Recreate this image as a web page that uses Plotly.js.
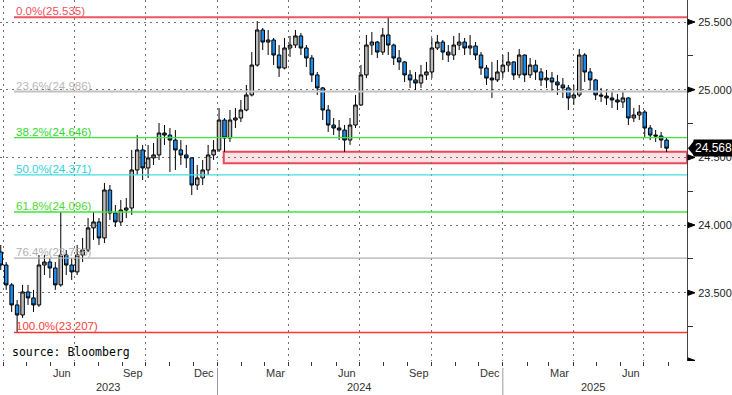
<!DOCTYPE html>
<html><head><meta charset="utf-8">
<script src="https://cdn.plot.ly/plotly-3.0.1.min.js"></script>
<style>html,body{margin:0;padding:0;background:#fff;} #chart{width:732px;height:395px;}</style>
</head><body><div id="chart"></div>
<script>
// weekly candles, first week centred on this date
const startDate = '2023-03-29';

const openVals = [
 23.801,23.705,23.558,23.410,23.336,23.506,23.462,23.410,23.705,23.727,
 23.683,23.558,23.779,23.705,23.654,23.779,23.816,23.979,24.023,23.905,
 24.259,24.089,24.023,24.111,24.126,24.407,24.555,24.422,24.496,24.518,
 24.680,24.665,24.628,24.555,24.518,24.496,24.296,24.348,24.407,24.518,
 24.555,24.776,24.643,24.776,24.791,24.850,24.961,25.182,25.441,25.352,
 25.367,25.256,25.160,25.308,25.330,25.397,25.308,25.234,25.109,25.013,
 24.850,24.739,24.717,24.702,24.628,24.739,24.887,25.109,25.330,25.352,
 25.278,25.404,25.330,25.234,25.205,25.109,25.072,25.049,25.109,25.131,
 25.308,25.352,25.278,25.256,25.330,25.352,25.308,25.323,25.256,25.160,
 25.086,25.072,25.131,25.182,25.205,25.109,25.256,25.109,25.182,25.131,
 25.072,25.086,25.057,25.035,25.013,24.939,24.961,25.256,25.131,25.072,
 24.961,24.953,24.939,24.924,24.909,24.939,24.791,24.813,24.835,24.717,
 24.665,24.658,24.628];
const highVals = [
 23.853,23.727,23.572,23.447,23.558,23.558,23.521,23.779,23.779,23.757,
 23.727,24.097,23.816,23.757,23.853,23.905,24.052,24.097,24.052,24.311,
 24.296,24.148,24.185,24.200,24.555,24.665,24.592,24.592,24.606,24.754,
 24.739,24.717,24.702,24.628,24.592,24.500,24.444,24.481,24.592,24.628,
 24.865,24.790,24.850,24.865,24.924,25.035,25.278,25.507,25.456,25.441,
 25.382,25.330,25.382,25.397,25.441,25.419,25.330,25.256,25.131,25.020,
 24.887,24.791,24.776,24.739,24.791,24.961,25.182,25.404,25.426,25.360,
 25.456,25.535,25.340,25.293,25.210,25.145,25.131,25.182,25.205,25.382,
 25.404,25.367,25.330,25.397,25.419,25.382,25.404,25.352,25.278,25.182,
 25.205,25.219,25.256,25.278,25.210,25.301,25.260,25.234,25.219,25.160,
 25.145,25.131,25.109,25.086,25.035,25.035,25.301,25.270,25.160,25.080,
 25.013,24.998,24.983,24.968,24.983,24.945,24.865,24.887,24.850,24.739,
 24.702,24.688,24.643];
const lowVals = [
 23.668,23.521,23.358,23.207,23.314,23.410,23.358,23.395,23.631,23.609,
 23.521,23.545,23.631,23.594,23.631,23.727,23.800,23.891,23.853,23.868,
 24.038,23.986,24.000,24.052,24.075,24.370,24.333,24.348,24.444,24.481,
 24.592,24.392,24.407,24.444,24.422,24.222,24.259,24.296,24.370,24.481,
 24.540,24.540,24.614,24.717,24.761,24.840,24.950,25.170,25.293,25.256,
 25.182,25.094,25.150,25.242,25.308,25.256,25.168,25.057,24.961,24.776,
 24.688,24.665,24.628,24.540,24.592,24.717,24.880,25.086,25.256,25.234,
 25.256,25.256,25.182,25.145,25.057,25.013,24.998,25.013,25.072,25.086,
 25.293,25.219,25.205,25.219,25.293,25.256,25.256,25.219,25.109,25.035,
 24.939,25.057,25.086,25.131,25.072,25.086,25.057,25.086,25.072,25.027,
 25.013,24.983,24.961,24.939,24.850,24.887,24.946,25.057,24.998,24.924,
 24.909,24.887,24.865,24.850,24.865,24.739,24.761,24.776,24.651,24.628,
 24.614,24.569,24.540];
const closeVals = [
 23.705,23.558,23.410,23.336,23.506,23.462,23.410,23.705,23.727,23.683,
 23.558,23.779,23.705,23.654,23.779,23.816,23.979,24.023,23.905,24.259,
 24.089,24.023,24.111,24.126,24.407,24.555,24.422,24.496,24.518,24.680,
 24.665,24.628,24.555,24.518,24.496,24.296,24.348,24.407,24.518,24.555,
 24.776,24.643,24.776,24.791,24.850,24.961,25.182,25.441,25.352,25.367,
 25.256,25.160,25.308,25.330,25.397,25.308,25.234,25.109,25.013,24.850,
 24.739,24.717,24.702,24.628,24.739,24.887,25.109,25.330,25.352,25.278,
 25.404,25.330,25.234,25.205,25.109,25.072,25.049,25.109,25.131,25.308,
 25.352,25.278,25.256,25.330,25.352,25.308,25.323,25.256,25.160,25.086,
 25.072,25.131,25.182,25.205,25.109,25.256,25.109,25.182,25.131,25.072,
 25.086,25.057,25.035,25.013,24.939,24.961,25.256,25.131,25.072,24.961,
 24.953,24.939,24.924,24.909,24.939,24.791,24.813,24.835,24.717,24.665,
 24.658,24.628,24.568];

const fibLevels = [25.535, 24.986, 24.646, 24.371, 24.096, 23.756, 23.207];
const fibLabels = ['0.0%(25.535)','23.6%(24.986)','38.2%(24.646)','50.0%(24.371)','61.8%(24.096)','76.4%(23.756)','100.0%(23.207)'];
const fibLineColors = ['#ec5560','#c2c2c2','#3ae83a','#44dde0','#3ae83a','#b0b0b0','#ff3535'];
const fibTextColors = ['#f0505a','#b8b8b8','#30d830','#30d0e0','#4cd830','#b0b0b0','#ff4040'];
const fibLineWidths = [2, 2, 1.3, 1.3, 1.5, 1.3, 1.5];
const fibStart = '2023-04-15';

const zoneStart = '2024-01-09';
const zoneLow = 24.456, zoneHigh = 24.542;
const lastPrice = 24.568;

const yTickVals = [23, 23.5, 24, 24.5, 25, 25.5];
const yTickText = ['', '23.500', '24.000', '24.500', '25.000', '25.500'];
const yMinorVals = [23.25, 23.75, 24.25, 24.75, 25.25];
const yRange = [22.996, 25.6625];
const xRange = ['2023-03-28 01:00', '2025-08-25 05:00'];

const quarterDates = ['2023-04-01','2023-07-01','2023-10-01','2024-01-01','2024-04-01','2024-07-01','2024-10-01','2025-01-01','2025-04-01','2025-07-01'];
const monthLabelDates = ['2023-06-15','2023-09-15','2023-12-15','2024-03-15','2024-06-15','2024-09-15','2024-12-15','2025-03-15','2025-06-15'];
const monthLabelText = ['Jun','Sep','Dec','Mar','Jun','Sep','Dec','Mar','Jun'];
const yearLabelDates = ['2023-08-14','2024-07-01','2025-04-26'];
const yearLabelText = ['2023','2024','2025'];
const yearSepDates = ['2024-01-01','2025-01-01'];

const dates = [];
const t0 = new Date(startDate + 'T00:00:00Z').getTime();
for (let i = 0; i < closeVals.length; i++) {
  dates.push(new Date(t0 + i * 7 * 86400000).toISOString().slice(0, 10));
}

const PW = 687, PH = 361, YPX = (yRange[1] - yRange[0]) / PH;

const trace = {
  type: 'candlestick', x: dates, open: openVals, high: highVals, low: lowVals, close: closeVals,
  increasing: {line: {color: '#000000', width: 1}, fillcolor: '#bdbdbd'},
  decreasing: {line: {color: '#000000', width: 1}, fillcolor: '#1f8ceb'},
  whiskerwidth: 0, hoverinfo: 'skip', showlegend: false
};

const shapes = [];
shapes.push({type: 'rect', xref: 'x', yref: 'y', x0: zoneStart, x1: xRange[1], y0: zoneLow, y1: zoneHigh,
  fillcolor: '#fde3e6', line: {color: '#e84a5a', width: 2}, layer: 'below'});
fibLevels.forEach((lv, i) => {
  shapes.push({type: 'line', xref: 'x', yref: 'y', x0: fibStart, x1: xRange[1], y0: lv, y1: lv,
    line: {color: fibLineColors[i], width: fibLineWidths[i]}, layer: 'above'});
});
yTickVals.forEach(v => {
  const a = 1 + 1 / PW, b = 1 + 8 / PW, h = 2.5 * YPX;
  shapes.push({type: 'path', xref: 'paper', yref: 'y',
    path: `M ${a} ${v + h} L ${b} ${v} L ${a} ${v - h} Z`, fillcolor: '#000', line: {color: '#000', width: 1}});
});
{
  const a = 1 + 1 / PW, b = 1 + 7 / PW, h = 7.5 * YPX;
  shapes.push({type: 'path', xref: 'paper', yref: 'y',
    path: `M ${a} ${lastPrice} L ${b} ${lastPrice + h} L ${b} ${lastPrice - h} Z`, fillcolor: '#000', line: {color: '#000', width: 0}});
}
yearSepDates.forEach(d => {
  shapes.push({type: 'line', xref: 'x', yref: 'paper', x0: d, x1: d, y0: -7 / PH, y1: -34 / PH,
    line: {color: '#9a9a9a', width: 1}});
});

const annotations = [];
fibLevels.forEach((lv, i) => {
  annotations.push({xref: 'x', yref: 'y', x: fibStart, y: lv, xanchor: 'left', yanchor: 'bottom',
    xshift: 1, yshift: -1, text: fibLabels[i], showarrow: false, borderpad: 0,
    font: {family: 'Liberation Sans, Arial, sans-serif', size: 11.5, color: fibTextColors[i]}});
});
monthLabelDates.forEach((d, i) => {
  annotations.push({xref: 'x', yref: 'paper', x: d, y: -12 / PH, yanchor: 'middle', xanchor: 'center',
    text: monthLabelText[i], showarrow: false,
    font: {family: 'Liberation Sans, Arial, sans-serif', size: 11, color: '#333'}});
});
yearLabelDates.forEach((d, i) => {
  annotations.push({xref: 'x', yref: 'paper', x: d, y: -25.5 / PH, yanchor: 'middle', xanchor: 'center',
    text: yearLabelText[i], showarrow: false,
    font: {family: 'Liberation Sans, Arial, sans-serif', size: 11, color: '#333'}});
});
annotations.push({xref: 'paper', yref: 'paper', x: 10 / PW, y: 9 / PH, xanchor: 'left', yanchor: 'middle',
  text: 'source: Bloomberg', showarrow: false,
  font: {family: 'DejaVu Sans Mono, monospace', size: 11.5, color: '#000'}});
annotations.push({xref: 'paper', yref: 'y', x: 1, xshift: 6, y: lastPrice, xanchor: 'left', yanchor: 'middle',
  text: lastPrice.toFixed(3), showarrow: false, bgcolor: '#000', borderpad: 1,
  font: {family: 'Liberation Sans, Arial, sans-serif', size: 12, color: '#fff'}});

const layout = {
  width: 732, height: 395,
  margin: {l: 0, r: 45, t: 0, b: 34, pad: 0},
  paper_bgcolor: '#ffffff', plot_bgcolor: '#ffffff',
  showlegend: false,
  boxgap: 0.08,
  xaxis: {
    type: 'date', range: xRange, rangeslider: {visible: false}, fixedrange: true,
    tickmode: 'array', tickvals: quarterDates, showticklabels: false,
    ticks: 'outside', ticklen: 4, tickcolor: '#333', tickwidth: 1,
    showgrid: true, gridcolor: '#707070', gridwidth: 1, griddash: '2px,4px',
    minor: {dtick: 'M1', tick0: '2023-01-01', ticks: 'outside', ticklen: 4, tickcolor: '#333', tickwidth: 1, showgrid: false},
    showline: false, zeroline: false
  },
  yaxis: {
    side: 'right', range: yRange, fixedrange: true,
    tickmode: 'array', tickvals: yTickVals, ticktext: yTickText, ticks: '',
    showgrid: true, gridcolor: '#707070', gridwidth: 1, griddash: '2px,4px',
    minor: {tickvals: yMinorVals, ticks: 'outside', ticklen: 5, tickcolor: '#333', tickwidth: 1, showgrid: false},
    showline: true, linecolor: '#444', linewidth: 1, zeroline: false,
    tickfont: {family: 'Liberation Sans, Arial, sans-serif', size: 11, color: '#222'},
    ticklabelstandoff: 8
  },
  shapes: shapes,
  annotations: annotations
};

Plotly.newPlot('chart', [trace], layout, {displayModeBar: false, staticPlot: true});
</script>
</body></html>
